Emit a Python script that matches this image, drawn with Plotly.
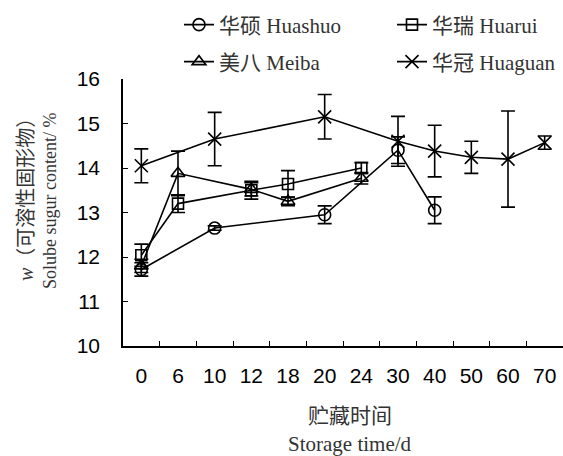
import plotly.graph_objects as go

days = ["0", "6", "10", "12", "18", "20", "24", "30", "40", "50", "60", "70"]

huashuo_x = ["0", "10", "20", "30", "40"]
huashuo_y = [11.72, 12.65, 12.95, 14.4, 13.05]
huashuo_e = [0.15, 0.05, 0.2, 0.3, 0.3]

huarui_x = ["0", "6", "12", "18", "24"]
huarui_y = [12.04, 13.2, 13.5, 13.64, 14.0]
huarui_e = [0.25, 0.2, 0.2, 0.3, 0.12]

meiba_x = ["0", "6", "12", "18", "24"]
meiba_y = [11.8, 13.88, 13.52, 13.25, 13.77]
meiba_e = [0.15, 0.5, 0.15, 0.1, 0.13]

huaguan_x = ["0", "10", "20", "30", "40", "50", "60", "70"]
huaguan_y = [14.05, 14.65, 15.15, 14.6, 14.38, 14.24, 14.2, 14.57]
huaguan_e = [0.38, 0.6, 0.5, 0.56, 0.58, 0.36, 1.08, 0.15]

serif = "Liberation Serif, Times New Roman, Noto Sans CJK SC"
sans = "Liberation Sans, Arial, sans-serif"
txt = "#333333"

fig = go.Figure()

def add(name, x, y, e, symbol, size, legend):
    fig.add_trace(go.Scatter(
        x=x, y=y, name=name, mode="lines+markers", legend=legend,
        line=dict(color="black", width=1.6),
        marker=dict(symbol=symbol, size=size, color="black",
                    line=dict(color="black", width=1.6)),
        error_y=dict(type="data", array=e, visible=True, color="black",
                     thickness=1.6, width=7),
    ))

add("华硕 Huashuo", huashuo_x, huashuo_y, huashuo_e, "circle-open", 12, "legend")
add("华瑞 Huarui", huarui_x, huarui_y, huarui_e, "square-open", 11, "legend")
add("美八 Meiba", meiba_x, meiba_y, meiba_e, "triangle-up-open", 12, "legend2")
add("华冠 Huaguan", huaguan_x, huaguan_y, huaguan_e, "x-thin-open", 13, "legend2")

legend_common = dict(orientation="h", xanchor="left", yanchor="middle",
                     font=dict(family=serif, size=21, color=txt),
                     bgcolor="rgba(0,0,0,0)", entrywidth=168,
                     entrywidthmode="pixels", itemwidth=30,
                     xref="container", yref="container")

fig.update_layout(
    width=563, height=456,
    margin=dict(l=123, r=0, t=79, b=110, autoexpand=False),
    plot_bgcolor="white", paper_bgcolor="white",
    showlegend=True,
    legend=dict(legend_common, x=179 / 563, y=1 - 25 / 456),
    legend2=dict(legend_common, x=179 / 563, y=1 - 62 / 456),
    xaxis=dict(
        type="category", categoryorder="array", categoryarray=days,
        tickmode="array", tickvals=days, ticktext=days,
        range=[-0.5, 11.5], showgrid=False, zeroline=False, automargin=False,
        showline=True, linecolor="black", linewidth=1.5,
        ticks="inside", tickson="boundaries", ticklen=5, tickcolor="black",
        tickwidth=1, ticklabelstandoff=10,
        tickfont=dict(family=sans, size=21, color="black"),
    ),
    yaxis=dict(
        range=[10, 16], dtick=1, tick0=10, showgrid=False, zeroline=False,
        automargin=False,
        showline=True, linecolor="black", linewidth=1.5,
        ticks="inside", ticklen=5, tickcolor="black", tickwidth=1,
        ticklabelstandoff=17,
        tickfont=dict(family=sans, size=21, color="black"),
    ),
    annotations=[
        dict(text="贮藏时间", xref="paper", yref="paper",
             x=(350 - 123) / 440, y=(346 - 416) / 267,
             xanchor="center", yanchor="middle", showarrow=False,
             font=dict(family=serif, size=21, color=txt)),
        dict(text="Storage time/d", xref="paper", yref="paper",
             x=(350 - 123) / 440, y=(346 - 444) / 267,
             xanchor="center", yanchor="middle", showarrow=False,
             font=dict(family=serif, size=21, color=txt)),
        dict(text="<i>w</i>（可溶性固形物）", xref="paper", yref="paper",
             x=(26 - 123) / 440, y=(346 - 195) / 267, textangle=-90,
             xanchor="center", yanchor="middle", showarrow=False,
             font=dict(family=serif, size=20, color=txt)),
        dict(text="Solube sugur content/ %", xref="paper", yref="paper",
             x=(50 - 123) / 440, y=(346 - 201) / 267, textangle=-90,
             xanchor="center", yanchor="middle", showarrow=False,
             font=dict(family=serif, size=18, color=txt)),
    ],
)

fig.write_html("out.html", post_script="document.body.style.margin='0';",
               config={"displayModeBar": False})
